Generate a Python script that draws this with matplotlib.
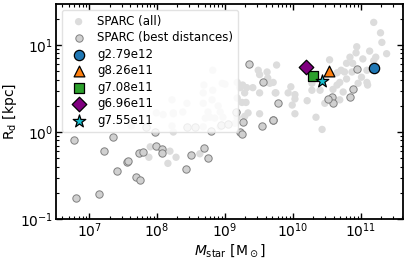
import matplotlib
matplotlib.use("Agg")
import matplotlib.pyplot as plt
import numpy as np

# SPARC, all galaxies (log10 Mstar [Msun], log10 Rd [kpc])
all_logm = np.array([7.88, 8.16, 8.28, 8.63, 10.43, 7.62, 7.99, 8.24, 7.90, 8.24, 8.19, 8.22,
                     8.93, 8.68, 9.76, 9.49, 9.62, 9.51, 9.63, 9.71, 9.18, 9.26, 9.22, 9.32,
                     9.41, 9.29, 9.51, 9.74, 9.18, 9.25, 9.31, 9.34, 9.29, 9.18, 9.51, 9.15,
                     8.82, 8.69, 8.68, 8.82, 8.96, 9.00, 8.22, 8.44, 8.24, 8.38, 8.68, 8.81,
                     8.90, 8.93, 8.75, 8.97, 8.78, 8.09, 8.71, 8.85,
                     11.19, 11.29, 11.31, 11.38, 10.94, 10.84, 10.93, 11.13, 11.22, 11.19,
                     11.03, 10.79, 10.88, 10.71, 10.76, 10.65, 10.87, 10.54, 11.09, 11.01,
                     11.09, 10.79, 10.69, 11.10, 10.96, 10.65, 10.59, 10.74, 10.28, 10.28,
                     10.40, 9.97, 9.66, 9.75, 9.93, 10.03, 10.03, 10.21, 9.99, 10.03, 10.34,
                     10.47, 10.69])
all_logr = np.array([-0.29, -0.36, -0.29, -0.25, 0.03, 0.07, 0.22, 0.22, -0.17, 0.00, -0.22, 0.07,
                     0.06, 0.06, 0.77, 0.71, 0.69, 0.66, 0.62, 0.57, 0.57, 0.54, 0.51, 0.51,
                     0.51, 0.45, 0.45, 0.45, 0.39, 0.34, 0.34, 0.22, 0.18, 0.17, 0.21, 0.10,
                     0.71, 0.54, 0.45, 0.48, 0.56, 0.55, 0.37, 0.33, 0.21, 0.23, 0.33, 0.37,
                     0.30, 0.23, 0.23, 0.17, 0.17, 0.20, 0.16, 0.16,
                     1.26, 1.14, 1.03, 0.90, 0.98, 0.86, 0.91, 0.93, 0.86, 0.82,
                     0.84, 0.79, 0.79, 0.71, 0.69, 0.68, 0.69, 0.83, 0.71, 0.63,
                     0.57, 0.61, 0.57, 0.54, 0.56, 0.54, 0.49, 0.46, 0.56, 0.48,
                     0.48, 0.52, 0.56, 0.45, 0.45, 0.43, 0.38, 0.36, 0.31, 0.21, 0.17,
                     0.33, 0.37])

# SPARC, best distances
best_logm = np.array([6.78, 6.81, 7.15, 7.22, 7.35, 7.41, 7.56, 7.57, 7.69, 7.75, 7.74, 7.79,
                      7.84, 7.97, 7.99, 8.07, 8.07, 8.43, 8.50, 8.69, 8.75, 8.79, 8.44, 8.56,
                      8.94, 9.04, 9.16, 9.27, 9.22, 9.25, 9.54, 9.70, 9.78, 9.35, 9.56,
                      10.94, 10.88, 10.84, 10.57, 10.59, 10.51, 9.71])
best_logr = np.array([-0.09, -0.76, -0.71, -0.22, -0.06, -0.45, -0.34, -0.33, -0.52, -0.55, -0.24, -0.23,
                      0.06, 0.00, -0.16, -0.20, -0.24, -0.43, -0.26, -0.18, -0.30, 0.01, 0.06, 0.06,
                      0.08, 0.09, 0.23, 0.12, 0.00, -0.02, 0.07, 0.14, 0.33, 0.78, 0.57,
                      0.72, 0.49, 0.40, 0.40, 0.33, 0.38, 0.14])

# simulated galaxies
sim_names = ["g2.79e12", "g8.26e11", "g7.08e11", "g6.96e11", "g7.55e11"]
sim_mstar = [1.55e11, 3.4e10, 1.95e10, 1.55e10, 2.7e10]
sim_rd = [5.45, 5.0, 4.35, 5.6, 3.9]
sim_markers = ["o", "^", "s", "D", "*"]
sim_colors = ["tab:blue", "tab:orange", "tab:green", "purple", "tab:cyan"]
sim_sizes = [55, 60, 50, 55, 90]

plt.rcParams["font.family"] = "DejaVu Sans"
fig, ax = plt.subplots(figsize=(4.07, 2.58), dpi=100)
fig.subplots_adjust(left=0.138, right=0.99, bottom=0.151, top=0.984)

ax.scatter(10**all_logm, 10**all_logr, s=28, color="#dcdcdc", edgecolors="none",
           label="SPARC (all)", zorder=1)
ax.scatter(10**best_logm, 10**best_logr, s=28, color="#d0d0d0", edgecolors="#808080",
           linewidths=0.7, label="SPARC (best distances)", zorder=2)
for name, m, r, mk, c, s in zip(sim_names, sim_mstar, sim_rd, sim_markers, sim_colors, sim_sizes):
    ax.scatter(m, r, s=s, marker=mk, color=c, edgecolors="black", linewidths=0.9,
               label=name, zorder=3)

ax.set_xscale("log")
ax.set_yscale("log")
ax.set_xlim(10**6.515, 10**11.62)
ax.set_ylim(0.1, 29.5)
ax.set_xlabel(r"$M_{\rm star}$ [M$_\odot$]", fontsize=10, labelpad=1)
ax.set_ylabel(r"R$_{\rm d}$ [kpc]", fontsize=10, labelpad=1)
ax.tick_params(which="both", direction="in", top=True, right=True, labelsize=10, pad=2)
ax.tick_params(which="major", length=4, width=1)
ax.tick_params(which="minor", length=2, width=0.8)
for sp in ax.spines.values():
    sp.set_linewidth(1.3)

ax.legend(loc="upper left", fontsize=8.5, framealpha=0.85, edgecolor="#dddddd",
          handletextpad=0.6, borderpad=0.4, labelspacing=0.3)

fig.savefig("out.png", dpi=100)
